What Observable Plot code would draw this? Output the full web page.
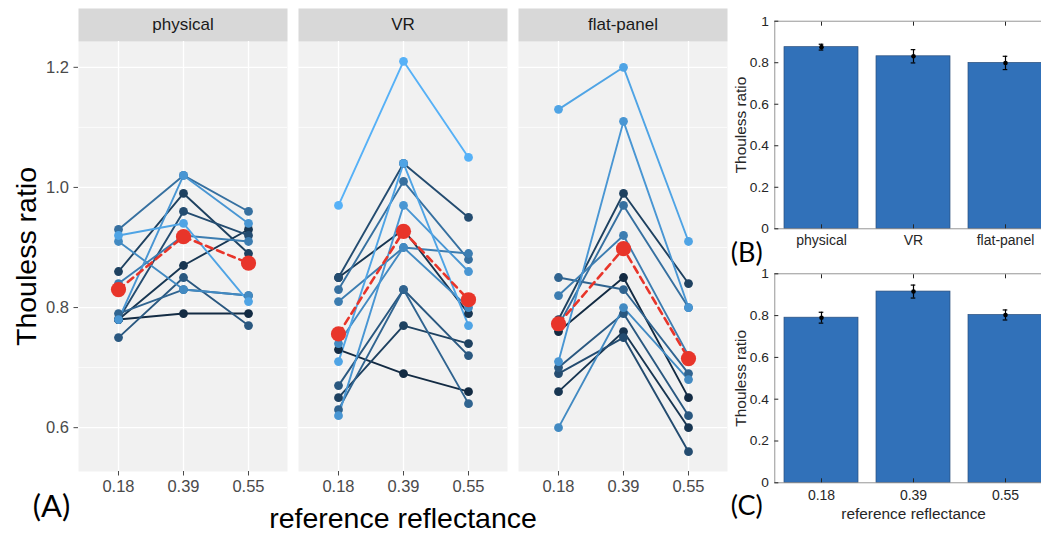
<!DOCTYPE html>
<html>
<head>
<meta charset="utf-8">
<script src="https://cdn.jsdelivr.net/npm/d3@7"></script>
<script src="https://cdn.jsdelivr.net/npm/@observablehq/plot@0.6"></script>
<style>
  html, body { margin: 0; padding: 0; background: white; }
  #wrap { position: relative; width: 1041px; height: 534px; overflow: hidden; background: white; }
</style>
</head>
<body>
<div id="wrap"></div>
<script>
// ---------------- data ----------------
const conditions = ["physical", "VR", "flat-panel"];
const reflectances = ["0.18", "0.39", "0.55"];

// each participant: Thouless ratio at reflectance 0.18, 0.39, 0.55
const physicalParticipants = [
  [0.78, 0.79, 0.79],
  [0.78, 0.87, 0.93],
  [0.86, 0.99, 0.89],
  [0.78, 0.96, 0.92],
  [0.75, 0.85, 0.77],
  [0.79, 0.83, 0.82],
  [0.93, 1.02, 0.96],
  [0.84, 0.92, 0.91],
  [0.91, 0.83, 0.82],
  [0.78, 1.02, 0.94],
  [0.92, 0.94, 0.81]
];
const vrParticipants = [
  [0.73, 0.69, 0.66],
  [0.85, 0.93, 0.79],
  [0.65, 0.77, 0.74],
  [0.85, 1.04, 0.95],
  [0.67, 0.83, 0.72],
  [0.63, 0.83, 0.64],
  [0.83, 1.01, 0.88],
  [0.81, 0.90, 0.89],
  [0.74, 0.90, 0.80],
  [0.62, 0.97, 0.86],
  [0.71, 1.04, 0.77],
  [0.97, 1.21, 1.05]
];
const flatPanelParticipants = [
  [0.76, 0.85, 0.65],
  [0.66, 0.76, 0.60],
  [0.78, 0.99, 0.84],
  [0.69, 0.75, 0.56],
  [0.70, 0.79, 0.62],
  [0.85, 0.83, 0.69],
  [0.77, 0.97, 0.80],
  [0.82, 0.92, 0.72],
  [0.60, 0.80, 0.68],
  [0.71, 1.11, 0.80],
  [1.13, 1.20, 0.91]
];
const physicalMean = [0.830, 0.918, 0.874];
const vrMean = [0.756, 0.927, 0.813];
const flatPanelMean = [0.773, 0.898, 0.715];

// panel B (by condition) and panel C (by reflectance)
const conditionBarMeans = [0.875, 0.831, 0.799];
const conditionBarErrors = [0.014, 0.032, 0.032];
const reflectanceBarMeans = [0.790, 0.915, 0.803];
const reflectanceBarErrors = [0.026, 0.031, 0.024];

const yTicksA = [0.6, 0.8, 1.0, 1.2];
const yMinorA = [0.7, 0.9, 1.1];
const yTicksBar = [0, 0.2, 0.4, 0.6, 0.8, 1];

// ---------------- tables ----------------
const seriesByCondition = [physicalParticipants, vrParticipants, flatPanelParticipants];
const meansByCondition = [physicalMean, vrMean, flatPanelMean];
const rows = [];
conditions.forEach((c, ci) => {
  seriesByCondition[ci].forEach((vals, pi) => {
    vals.forEach((v, ri) => rows.push({condition: c, participant: pi + 1, refl: reflectances[ri], value: v}));
  });
});
const meanRows = [];
conditions.forEach((c, ci) => {
  meansByCondition[ci].forEach((v, ri) => meanRows.push({condition: c, refl: reflectances[ri], value: v}));
});
const condBars = conditions.map((c, i) => ({cat: c, mean: conditionBarMeans[i], err: conditionBarErrors[i]}));
const reflBars = reflectances.map((r, i) => ({cat: r, mean: reflectanceBarMeans[i], err: reflectanceBarErrors[i]}));

const FONT = "'Liberation Sans', Arial, Helvetica, sans-serif";
const LABEL_FONT = "Lato, 'Open Sans', sans-serif";
const RED = "#E8352A";
const wrap = document.getElementById("wrap");

function place(svg, left, top) {
  svg.style.position = "absolute";
  svg.style.left = left + "px";
  svg.style.top = top + "px";
  svg.style.background = "transparent";
  svg.style.overflow = "visible";
  svg.style.fontFamily = FONT;
  svg.style.maxWidth = "none";
  wrap.appendChild(svg);
}

// ---------------- panel A ----------------
const A = {width: 735, height: 534, ml: 78, mr: 7, mt: 41, mb: 63};
const panelH = A.height - A.mt - A.mb;
const plotA = Plot.plot({
  width: A.width, height: A.height,
  marginLeft: A.ml, marginRight: A.mr, marginTop: A.mt, marginBottom: A.mb,
  fx: {domain: conditions, paddingInner: 0.048, paddingOuter: 0, axis: null, label: null},
  x: {type: "point", domain: reflectances, padding: 0.6, label: null},
  y: {domain: [0.527, 1.243], label: null},
  color: {type: "linear", domain: [1, 12], range: ["#132B43", "#56B1F7"], interpolate: "lab"},
  marks: [
    Plot.frame({fill: "#F1F1F1", stroke: "none"}),
    Plot.frame({fill: "#D8D8D8", stroke: "none", insetTop: -33, insetBottom: panelH}),
    Plot.gridY(yMinorA, {stroke: "white", strokeOpacity: 1, strokeWidth: 0.7}),
    Plot.gridY(yTicksA, {stroke: "white", strokeOpacity: 1, strokeWidth: 1.3}),
    Plot.gridX({stroke: "white", strokeOpacity: 1, strokeWidth: 1.3}),
    Plot.line(rows, {fx: "condition", x: "refl", y: "value", z: "participant", stroke: "participant", strokeWidth: 1.9}),
    Plot.dot(rows, {fx: "condition", x: "refl", y: "value", fill: "participant", r: 4.4}),
    Plot.line(meanRows, {fx: "condition", x: "refl", y: "value", z: "condition", stroke: RED, strokeWidth: 2.6, strokeDasharray: "7,5"}),
    Plot.dot(meanRows, {fx: "condition", x: "refl", y: "value", fill: RED, r: 7.6}),
    Plot.text(conditions, {fx: d => d, text: d => d, frameAnchor: "top", dy: -16.5, lineAnchor: "middle", textAnchor: "middle", fontSize: 17, fill: "#1A1A1A"}),
    Plot.axisY(yTicksA, {tickFormat: d3.format(".1f"), tickSize: 4.5, tickPadding: 5, fontSize: 16.5, color: "#4A4A4A", label: null}),
    Plot.axisX({tickSize: 4.5, tickPadding: 4, fontSize: 16.5, color: "#4A4A4A", label: null}),
    Plot.text(["Thouless ratio"], {fx: () => "physical", frameAnchor: "left", dx: -52, rotate: -90, textAnchor: "middle", lineAnchor: "middle", fontSize: 28.5, fill: "black"}),
    Plot.text(["reference reflectance"], {fx: () => "VR", frameAnchor: "bottom", dy: 47, textAnchor: "middle", lineAnchor: "middle", fontSize: 28.5, fill: "black"}),
    Plot.text(["(A)"], {fx: () => "physical", frameAnchor: "bottom-left", dx: -27, dy: 36, textAnchor: "middle", lineAnchor: "middle", fontSize: 31, fontFamily: LABEL_FONT, fill: "black"})
  ]
});
place(plotA, 0, 0);

// ---------------- bar panels (B, C) ----------------
function barPanel(data, domain, opts) {
  return Plot.plot({
    width: opts.width, height: opts.height,
    marginLeft: opts.ml, marginRight: 0, marginTop: opts.mt, marginBottom: opts.mb,
    x: {type: "band", domain, paddingInner: 0.2, paddingOuter: 0.1, label: null},
    y: {domain: [0, 1], label: null},
    marks: [
      Plot.barY(data, {x: "cat", y: "mean", fill: "#3171B9", stroke: "#2A4E7C", strokeWidth: 0.7}),
      Plot.ruleX(data, {x: "cat", y1: d => d.mean - d.err, y2: d => d.mean + d.err, stroke: "black", strokeWidth: 1.2}),
      Plot.tickY(data, {x: "cat", y: d => d.mean - d.err, insetLeft: 34.7, insetRight: 34.7, stroke: "black", strokeWidth: 1.2}),
      Plot.tickY(data, {x: "cat", y: d => d.mean + d.err, insetLeft: 34.7, insetRight: 34.7, stroke: "black", strokeWidth: 1.2}),
      Plot.dot(data, {x: "cat", y: "mean", r: 2.3, fill: "black"}),
      Plot.frame({stroke: "#8A8A8A", strokeWidth: 0.9}),
      Plot.axisY(yTicksBar, {tickSize: -4, tickPadding: 10, tickFormat: d => String(d), fontSize: 13.7, color: "#262626", label: null}),
      Plot.axisX({tickSize: -4, tickPadding: opts.xPad, fontSize: 14, color: "#262626", label: null}),
      Plot.axisX({anchor: "top", tickSize: -4, tickFormat: () => "", color: "#262626", label: null}),
      Plot.text(["Thouless ratio"], {frameAnchor: "left", dx: -33.6, rotate: -90, textAnchor: "middle", lineAnchor: "middle", fontSize: 15.4, fill: "#262626"}),
      ...(opts.xTitle ? [Plot.text([opts.xTitle], {frameAnchor: "bottom", dy: 31.7, textAnchor: "middle", lineAnchor: "middle", fontSize: 15.4, fill: "#262626"})] : []),
      Plot.text([opts.tag], {frameAnchor: "bottom-left", dx: -28, dy: opts.tagDy, textAnchor: "middle", lineAnchor: "middle", fontSize: 27, fontFamily: LABEL_FONT, fill: "black"})
    ]
  });
}

const plotB = barPanel(condBars, conditions, {width: 332, height: 272, ml: 54.3, mt: 20.7, mb: 43.7, xPad: 10, tag: "(B)", tagDy: 25, xTitle: null});
place(plotB, 720, 0);

const plotC = barPanel(reflBars, reflectances, {width: 332, height: 274, ml: 54.3, mt: 13.3, mb: 51.7, xPad: 11, tag: "(C)", tagDy: 24, xTitle: "reference reflectance"});
place(plotC, 720, 260);
</script>
</body>
</html>
